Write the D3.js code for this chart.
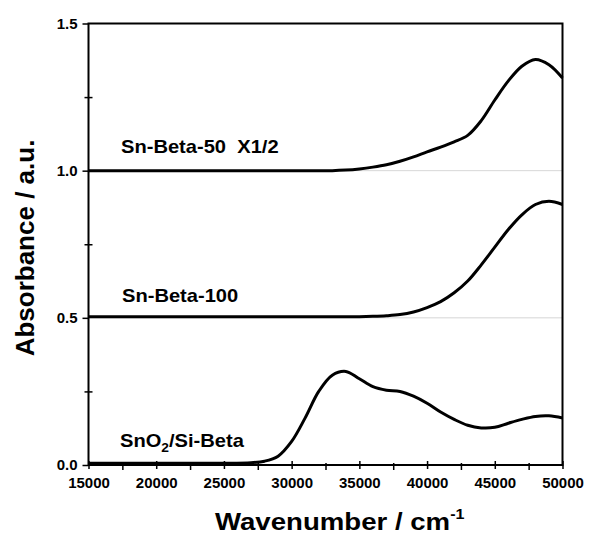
<!DOCTYPE html>
<html>
<head>
<meta charset="utf-8">
<script src="https://cdn.jsdelivr.net/npm/d3@7"></script>
<style>
  body { margin: 0; background: #fff; }
  svg { display: block; font-family: "Liberation Sans", Arial, sans-serif; font-weight: bold; }
</style>
</head>
<body>
<svg id="chart"></svg>
<script>
// wavenumber sample points (cm-1)
const wavenumbers = [15000, 20000, 25000, 27000, 28000, 29000, 30000, 31000, 32000, 33000, 34000,
  35000, 36000, 37000, 38000, 39000, 40000, 41000, 42000, 43000, 44000, 45000, 46000, 47000, 48000, 49000, 50000]

const snO2Values = [0.006, 0.006, 0.006, 0.008, 0.013, 0.03, 0.08, 0.16, 0.25, 0.305, 0.318,
  0.293, 0.266, 0.254, 0.25, 0.234, 0.21, 0.18, 0.155, 0.135, 0.126, 0.128, 0.142, 0.155, 0.165, 0.167, 0.16]

const snBeta100Values = [0.504, 0.504, 0.504, 0.504, 0.504, 0.504, 0.504, 0.504, 0.504, 0.504, 0.504,
  0.504, 0.505, 0.507, 0.511, 0.52, 0.535, 0.555, 0.585, 0.625, 0.68, 0.74, 0.80, 0.85, 0.885, 0.896, 0.885]

const snBeta50Values = [1.0, 1.0, 1.0, 1.0, 1.0, 1.0, 1.0, 1.0, 1.0, 1.0, 1.002,
  1.006, 1.012, 1.02, 1.032, 1.047, 1.064, 1.08, 1.098, 1.12, 1.17, 1.24, 1.305, 1.355, 1.378, 1.36, 1.315]

const xTicks = [15000, 20000, 25000, 30000, 35000, 40000, 45000, 50000]
const xMinorTicks = [17500, 22500, 27500, 32500, 37500, 42500, 47500]
const yTicks = [0, 0.5, 1.0, 1.5]
const yMinorTicks = [0.25, 0.75, 1.25]
const refLines = [0.5, 1.0]

const seriesLabels = ["Sn-Beta-50  X1/2", "Sn-Beta-100", "SnO2/Si-Beta"]
const labelPos = [[121, 153], [122, 301.5], [120, 446.5]]

const width = 590, height = 534
const margin = {top: 23.5, right: 27.5, bottom: 69, left: 88.5}
const innerW = width - margin.left - margin.right
const innerH = height - margin.top - margin.bottom

const svg = d3.select("#chart").attr("width", width).attr("height", height)
const g = svg.append("g").attr("transform", `translate(${margin.left},${margin.top})`)

const x = d3.scaleLinear().domain([15000, 50000]).range([0, innerW])
const y = d3.scaleLinear().domain([0, 1.5]).range([innerH, 0])

// dotted reference lines
g.selectAll(".ref").data(refLines).enter().append("line")
  .attr("x1", 0).attr("x2", innerW)
  .attr("y1", d => y(d)).attr("y2", d => y(d))
  .attr("stroke", "#999").attr("stroke-width", 0.8).attr("stroke-dasharray", "1,1")

// curves
const line = d3.line().x((d, i) => x(wavenumbers[i])).y(d => y(d)).curve(d3.curveCatmullRom.alpha(0.5))
const seriesList = [snBeta50Values, snBeta100Values, snO2Values]
g.selectAll(".curve").data(seriesList).enter().append("path")
  .attr("d", line)
  .attr("fill", "none")
  .attr("stroke", "#000")
  .attr("stroke-width", 3)

// frame
g.append("rect").attr("width", innerW).attr("height", innerH)
  .attr("fill", "none").attr("stroke", "#000").attr("stroke-width", 2)

// x axis
const xAxis = g.append("g").attr("transform", `translate(0,${innerH})`)
  .call(d3.axisBottom(x).tickValues(xTicks).tickSize(4).tickPadding(8).tickFormat(d3.format("d")))
xAxis.select(".domain").remove()
xAxis.selectAll("line").attr("y1", -4).attr("stroke-width", 1.5)
xAxis.selectAll("text").attr("font-size", 15).attr("font-weight", "bold").attr("fill", "#000")
  .attr("font-family", "Liberation Sans, Arial, sans-serif")

const xMinor = g.append("g").attr("transform", `translate(0,${innerH})`)
  .call(d3.axisBottom(x).tickValues(xMinorTicks).tickSize(5).tickFormat(""))
xMinor.select(".domain").remove()
xMinor.selectAll("line").attr("y1", -2).attr("stroke-width", 1.5)

// y axis
const yAxis = g.append("g")
  .call(d3.axisLeft(y).tickValues(yTicks).tickSize(6).tickPadding(5).tickFormat(d3.format(".1f")))
yAxis.select(".domain").remove()
yAxis.selectAll("line").attr("stroke-width", 1.5)
yAxis.selectAll("text").attr("font-size", 15).attr("font-weight", "bold").attr("fill", "#000")
  .attr("font-family", "Liberation Sans, Arial, sans-serif")

const yMinor = g.append("g")
  .call(d3.axisLeft(y).tickValues(yMinorTicks).tickSize(4).tickFormat(""))
yMinor.select(".domain").remove()
yMinor.selectAll("line").attr("x2", 4).attr("x1", -4).attr("stroke-width", 1.5)

// series labels
seriesLabels.forEach((txt, i) => {
  const t = svg.append("text")
    .attr("transform", `translate(${labelPos[i][0]},${labelPos[i][1]}) scale(1.15,1)`)
    .attr("font-size", 17.5)
    .style("white-space", "pre")
  if (txt === "SnO2/Si-Beta") {
    t.append("tspan").text("SnO")
    t.append("tspan").attr("font-size", 12).attr("dy", 5).text("2")
    t.append("tspan").attr("dy", -5).text("/Si-Beta")
  } else {
    t.text(txt)
  }
})

// axis titles
svg.append("text")
  .attr("transform", "translate(34,248) rotate(-90)")
  .attr("text-anchor", "middle")
  .attr("font-size", 26)
  .text("Absorbance / a.u.")

const xt = svg.append("text")
  .attr("transform", "translate(215,530) scale(1.15,1)")
  .attr("font-size", 24)
xt.append("tspan").text("Wavenumber / cm")
xt.append("tspan").attr("font-size", 14).attr("dy", -11).text("-1")
</script>
</body>
</html>
